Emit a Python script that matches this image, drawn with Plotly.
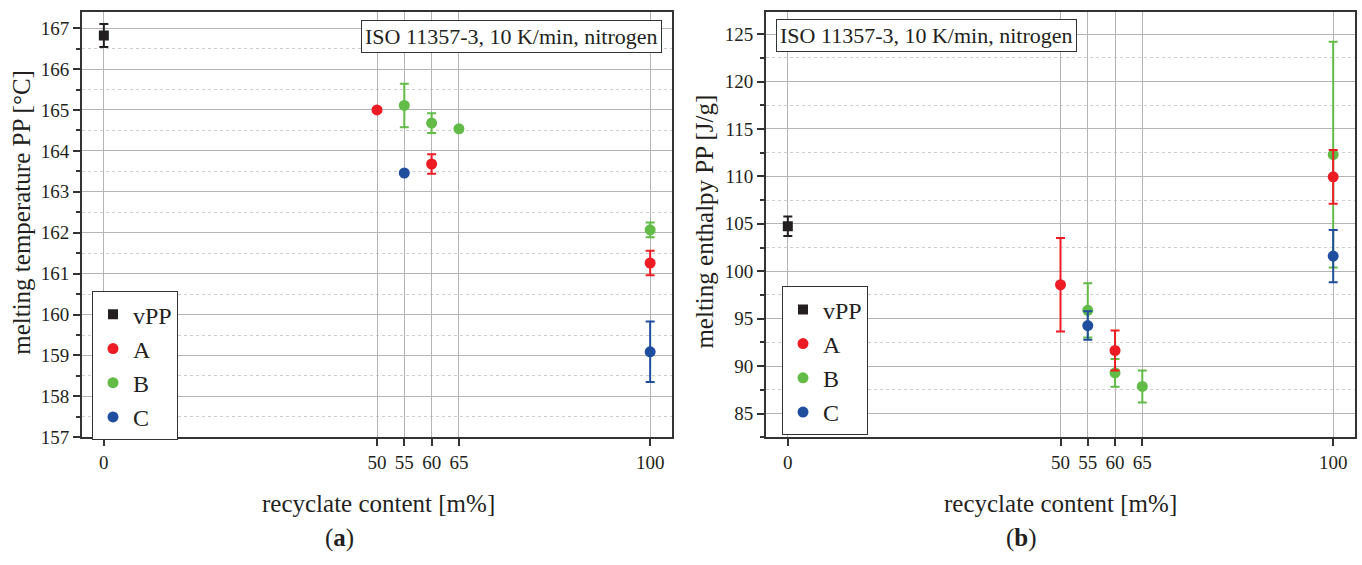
import plotly.graph_objects as go

# ---- data ---------------------------------------------------------------
x_ticks = [0, 50, 55, 60, 65, 100]

# (a) melting temperature PP [°C]
vpp_x_a, vpp_y_a, vpp_e_a = [0], [166.82], [0.28]
a_x_a, a_y_a, a_e_a = [50, 60, 100], [165.0, 163.68, 161.26], [0.05, 0.24, 0.30]
b_x_a, b_y_a, b_e_a = [55, 60, 65, 100], [165.11, 164.68, 164.54, 162.07], [0.53, 0.24, 0.05, 0.18]
c_x_a, c_y_a, c_e_a = [55, 100], [163.46, 159.09], [0.05, 0.74]

# (b) melting enthalpy PP [J/g]
vpp_x_b, vpp_y_b, vpp_e_b = [0], [104.74], [1.03]
a_x_b, a_y_b, a_e_b = [50, 60, 100], [98.58, 91.65, 109.95], [4.93, 2.12, 2.83]
b_x_b, b_y_b, b_e_b = [55, 60, 65, 100], [95.88, 89.3, 87.86, 112.3], [2.85, 1.46, 1.69, 11.9]
c_x_b, c_y_b, c_e_b = [55, 100], [94.28, 101.6], [1.5, 2.75]

names = ["vPP", "A", "B", "C"]
colors = {"vPP": "#231f20", "A": "#ed1c24", "B": "#62bb46", "C": "#1f4e9f"}
symbols = {"vPP": "square", "A": "circle", "B": "circle", "C": "circle"}
rank = {"vPP": 1, "A": 2, "B": 3, "C": 4}

W, H = 1362, 565
FONT = "Liberation Serif"
TXT = "#231f20"


def px_x(p):
    return p / W


def px_y(p):
    return 1 - p / H


fig = go.Figure()


def add_series(name, xs, ys, es, xa, ya, legend):
    fig.add_trace(go.Scatter(
        x=xs, y=ys, mode="markers", name=name,
        xaxis=xa, yaxis=ya, legend=legend,
        legendgroup=legend + name, legendrank=rank[name],
        marker=dict(color=colors[name], symbol=symbols[name],
                    size=10 if name == "vPP" else 11, line=dict(width=0)),
        error_y=dict(type="data", array=es, visible=True,
                     color=colors[name], thickness=2, width=4.5),
    ))


# drawing order: B below A so the red markers stay on top
for nm, xs, ys, es in [("vPP", vpp_x_a, vpp_y_a, vpp_e_a), ("B", b_x_a, b_y_a, b_e_a),
                       ("A", a_x_a, a_y_a, a_e_a), ("C", c_x_a, c_y_a, c_e_a)]:
    add_series(nm, xs, ys, es, "x", "y", "legend")

for nm, xs, ys, es in [("vPP", vpp_x_b, vpp_y_b, vpp_e_b), ("B", b_x_b, b_y_b, b_e_b),
                       ("A", a_x_b, a_y_b, a_e_b), ("C", c_x_b, c_y_b, c_e_b)]:
    add_series(nm, xs, ys, es, "x2", "y2", "legend2")

axis_common = dict(
    showline=True, linecolor="#333333", linewidth=2, mirror=True,
    ticks="outside", ticklen=7, tickwidth=2, tickcolor="#333333",
    tickfont=dict(family=FONT, size=19, color=TXT),
    showgrid=True, gridcolor="#b4b4b4", gridwidth=1, zeroline=False,
)

xaxis_common = dict(axis_common, tickmode="array", tickvals=x_ticks,
                    range=[-4, 104])

y_dom = [px_y(446), px_y(12)]

fig.update_layout(
    width=W, height=H,
    margin=dict(l=0, r=0, t=0, b=0),
    paper_bgcolor="white", plot_bgcolor="white",
    xaxis=dict(xaxis_common, domain=[px_x(82), px_x(672)], anchor="y"),
    yaxis=dict(axis_common, domain=y_dom, anchor="x", range=[157, 167.4],
               dtick=1, tick0=157,
               minor=dict(dtick=0.5, ticks="outside", ticklen=4, tickwidth=2,
                          tickcolor="#333333", showgrid=True,
                          gridcolor="#cfcfcf", griddash="dot", gridwidth=1)),
    xaxis2=dict(xaxis_common, domain=[px_x(766), px_x(1355)], anchor="y2"),
    yaxis2=dict(axis_common, domain=y_dom, anchor="x2", range=[82.5, 127.35],
                dtick=5, tick0=85,
                minor=dict(dtick=2.5, ticks="outside", ticklen=4, tickwidth=2,
                           tickcolor="#333333", showgrid=True,
                           gridcolor="#cfcfcf", griddash="dot", gridwidth=1)),
    legend=dict(x=px_x(92), y=px_y(297), xanchor="left", yanchor="top",
                bgcolor="white", bordercolor="#333333", borderwidth=1,
                font=dict(family=FONT, size=24, color=TXT),
                traceorder="grouped", tracegroupgap=0, itemwidth=30),
    legend2=dict(x=px_x(782), y=px_y(292), xanchor="left", yanchor="top",
                 bgcolor="white", bordercolor="#333333", borderwidth=1,
                 font=dict(family=FONT, size=24, color=TXT),
                 traceorder="grouped", tracegroupgap=0, itemwidth=30),
    showlegend=True,
)

ann_font = dict(family=FONT, size=22, color=TXT)
title_font = dict(family=FONT, size=25, color=TXT)
cond = "ISO 11357-3, 10 K/min, nitrogen"

annotations = [
    dict(text=cond, xref="paper", yref="paper", x=px_x(662), y=px_y(20),
         xanchor="right", yanchor="top", showarrow=False, font=ann_font,
         bgcolor="white", bordercolor="#333333", borderwidth=1, borderpad=3),
    dict(text=cond, xref="paper", yref="paper", x=px_x(776), y=px_y(19),
         xanchor="left", yanchor="top", showarrow=False, font=ann_font,
         bgcolor="white", bordercolor="#333333", borderwidth=1, borderpad=3),
    dict(text="melting temperature PP [°C]", xref="paper", yref="paper",
         x=px_x(22), y=px_y(217), textangle=-90, showarrow=False,
         xanchor="center", yanchor="middle", font=title_font),
    dict(text="melting enthalpy PP [J/g]", xref="paper", yref="paper",
         x=px_x(705), y=px_y(226), textangle=-90, showarrow=False,
         xanchor="center", yanchor="middle", font=title_font),
    dict(text="recyclate content [m%]", xref="paper", yref="paper",
         x=px_x(378), y=px_y(513), showarrow=False,
         xanchor="center", yanchor="middle", font=title_font),
    dict(text="recyclate content [m%]", xref="paper", yref="paper",
         x=px_x(1060), y=px_y(513), showarrow=False,
         xanchor="center", yanchor="middle", font=title_font),
    dict(text="(<b>a</b>)", xref="paper", yref="paper",
         x=px_x(339), y=px_y(549), showarrow=False,
         xanchor="center", yanchor="middle", font=title_font),
    dict(text="(<b>b</b>)", xref="paper", yref="paper",
         x=px_x(1021), y=px_y(549), showarrow=False,
         xanchor="center", yanchor="middle", font=title_font),
]
fig.update_layout(annotations=annotations)

fig.write_html("out.html")
